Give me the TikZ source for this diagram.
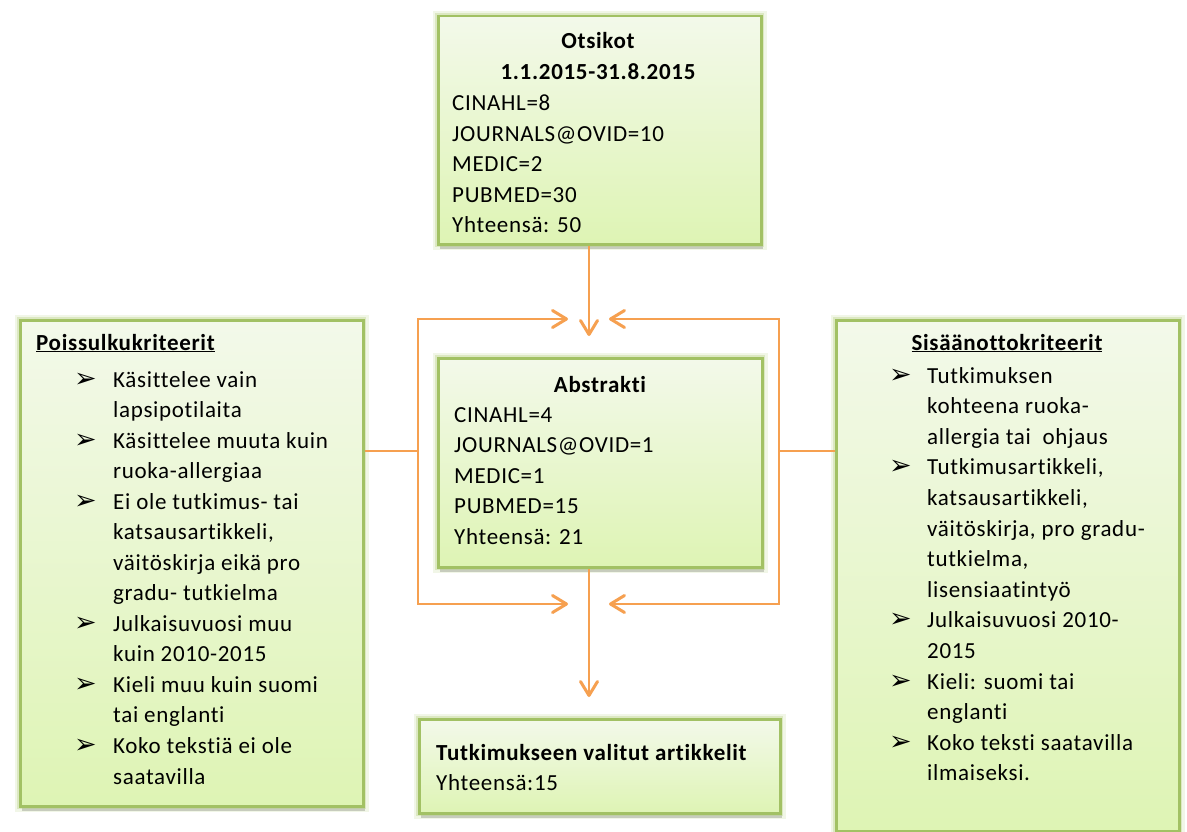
\documentclass[tikz,border=0pt]{standalone}
\usepackage{fontspec}
\setmainfont{Carlito}[LetterSpace=3.0, Ligatures=NoCommon]
\newfontfamily\dejavu{DejaVu Sans}
\usetikzlibrary{arrows.meta,shadows}
\definecolor{boxtop}{HTML}{F3F9EA}
\definecolor{boxbot}{HTML}{DEF4B4}
\definecolor{boxline}{HTML}{A2C164}
\definecolor{glowc}{HTML}{B5CF7E}
\definecolor{orangeline}{HTML}{F6A050}
\tikzset{
 gbox/.style={rectangle, anchor=north west, inner sep=0pt, line width=2.5pt, draw=boxline,
   top color=boxtop, bottom color=boxbot,
   drop shadow={shadow xshift=2pt, shadow yshift=-5pt, opacity=.2, fill=black},
   preaction={draw=glowc, line width=11pt, opacity=.18},
   preaction={draw=glowc, line width=6pt, opacity=.35}},
 txt/.style={anchor=base west, inner sep=0pt, font=\fontsize{23}{28}\selectfont},
 btxt/.style={anchor=base west, inner sep=0pt, font=\fontsize{23}{28}\selectfont\bfseries},
 ttl/.style={anchor=base, inner sep=0pt, font=\fontsize{23}{28}\selectfont\bfseries},
 bul/.style={anchor=base west, inner sep=0pt, font=\dejavu\fontsize{27}{30}\selectfont},
 conn/.style={draw=orangeline, line width=2pt},
 arr/.style={conn, -{Straight Barb[length=14pt,width=17pt,line width=3pt,round]}},
}
\begin{document}
\begin{tikzpicture}[x=1pt,y=-1pt]
\useasboundingbox (0,0) rectangle (1187,832);
\fill[white] (0,0) rectangle (1187,832);

% boxes
\node[gbox, minimum width=323pt, minimum height=228pt] (otsikot) at (437,15) {};
\node[gbox, minimum width=324pt, minimum height=209pt] (abstrakti) at (437,357) {};
\node[gbox, minimum width=361pt, minimum height=94pt] (valitut) at (418,718) {};
\node[gbox, minimum width=343pt, minimum height=486pt] (poiss) at (19,319) {};
\node[gbox, minimum width=343pt, minimum height=511pt] (sis) at (835,319) {};

% top box text
\node[ttl] (ot1) at (598,49) {Otsikot};
\node[ttl] (ot2) at (598,80) {1.1.2015-31.8.2015};
\foreach \t [count=\i from 0] in {CINAHL=8, JOURNALS@OVID=10, MEDIC=2, PUBMED=30, Yhteensä: 50}
  \node[txt] (otl\i) at (452,{111+30.5*\i}) {\t};

% abstrakti text
\node[ttl] (ab) at (600,392) {Abstrakti};
\foreach \t [count=\i from 0] in {CINAHL=4, JOURNALS@OVID=1, MEDIC=1, PUBMED=15, Yhteensä: 21}
  \node[txt] (abl\i) at (454,{422+30.5*\i}) {\t};

% bottom text
\node[btxt] (va1) at (436,760) {Tutkimukseen valitut artikkelit};
\node[txt] (va2) at (436,790) {Yhteensä:15};

% left box
\node[btxt] (pt) at (36,350) {\underline{Poissulkukriteerit}};
\foreach \k/\t [count=\i from 0] in {1/Käsittelee vain, 0/lapsipotilaita, 1/Käsittelee muuta kuin, 0/ruoka-allergiaa, 1/Ei ole tutkimus- tai, 0/{katsausartikkeli,}, 0/väitöskirja eikä pro, 0/gradu- tutkielma, 1/Julkaisuvuosi muu, 0/kuin 2010-2015, 1/Kieli muu kuin suomi, 0/tai englanti, 1/Koko tekstiä ei ole, 0/saatavilla}
{
  \node[txt] (pl\i) at (113,{387+30.54*\i}) {\t};
  \ifnum\k=1 \node[bul] (pb\i) at (74,{387+30.54*\i}) {➢}; \fi
}

% right box
\node[ttl] (st) at (1007,350) {\underline{Sisäänottokriteerit}};
\foreach \k/\t [count=\i from 0] in {1/Tutkimuksen, 0/kohteena ruoka-, 0/allergia tai\ \ ohjaus, 1/{Tutkimusartikkeli,}, 0/{katsausartikkeli,}, 0/{väitöskirja, pro gradu-}, 0/{tutkielma,}, 0/lisensiaatintyö, 1/Julkaisuvuosi 2010-, 0/2015, 1/Kieli: suomi tai, 0/englanti, 1/Koko teksti saatavilla, 0/ilmaiseksi.}
{
  \node[txt] (sl\i) at (927,{383+30.6*\i}) {\t};
  \ifnum\k=1 \node[bul] (sb\i) at (889,{383+30.6*\i}) {➢}; \fi
}

% connectors
\coordinate (c1) at (589,336);
\draw[arr] (c1 |- otsikot.south) -- (c1);
\coordinate (c2) at (589,697);
\draw[arr] (c2 |- abstrakti.south) -- (c2);

\coordinate (lj) at (418,451);
\coordinate (lt) at (568,319);
\coordinate (lb) at (568,604);
\draw[conn] (poiss.east |- lj) -- (lj);
\draw[arr] (lj) |- (lt);
\draw[arr] (lj) |- (lb);

\coordinate (rj) at (779,451);
\coordinate (rt) at (609,319);
\coordinate (rb) at (609,604);
\draw[conn] (sis.west |- rj) -- (rj);
\draw[arr] (rj) |- (rt);
\draw[arr] (rj) |- (rb);
\end{tikzpicture}
\end{document}
